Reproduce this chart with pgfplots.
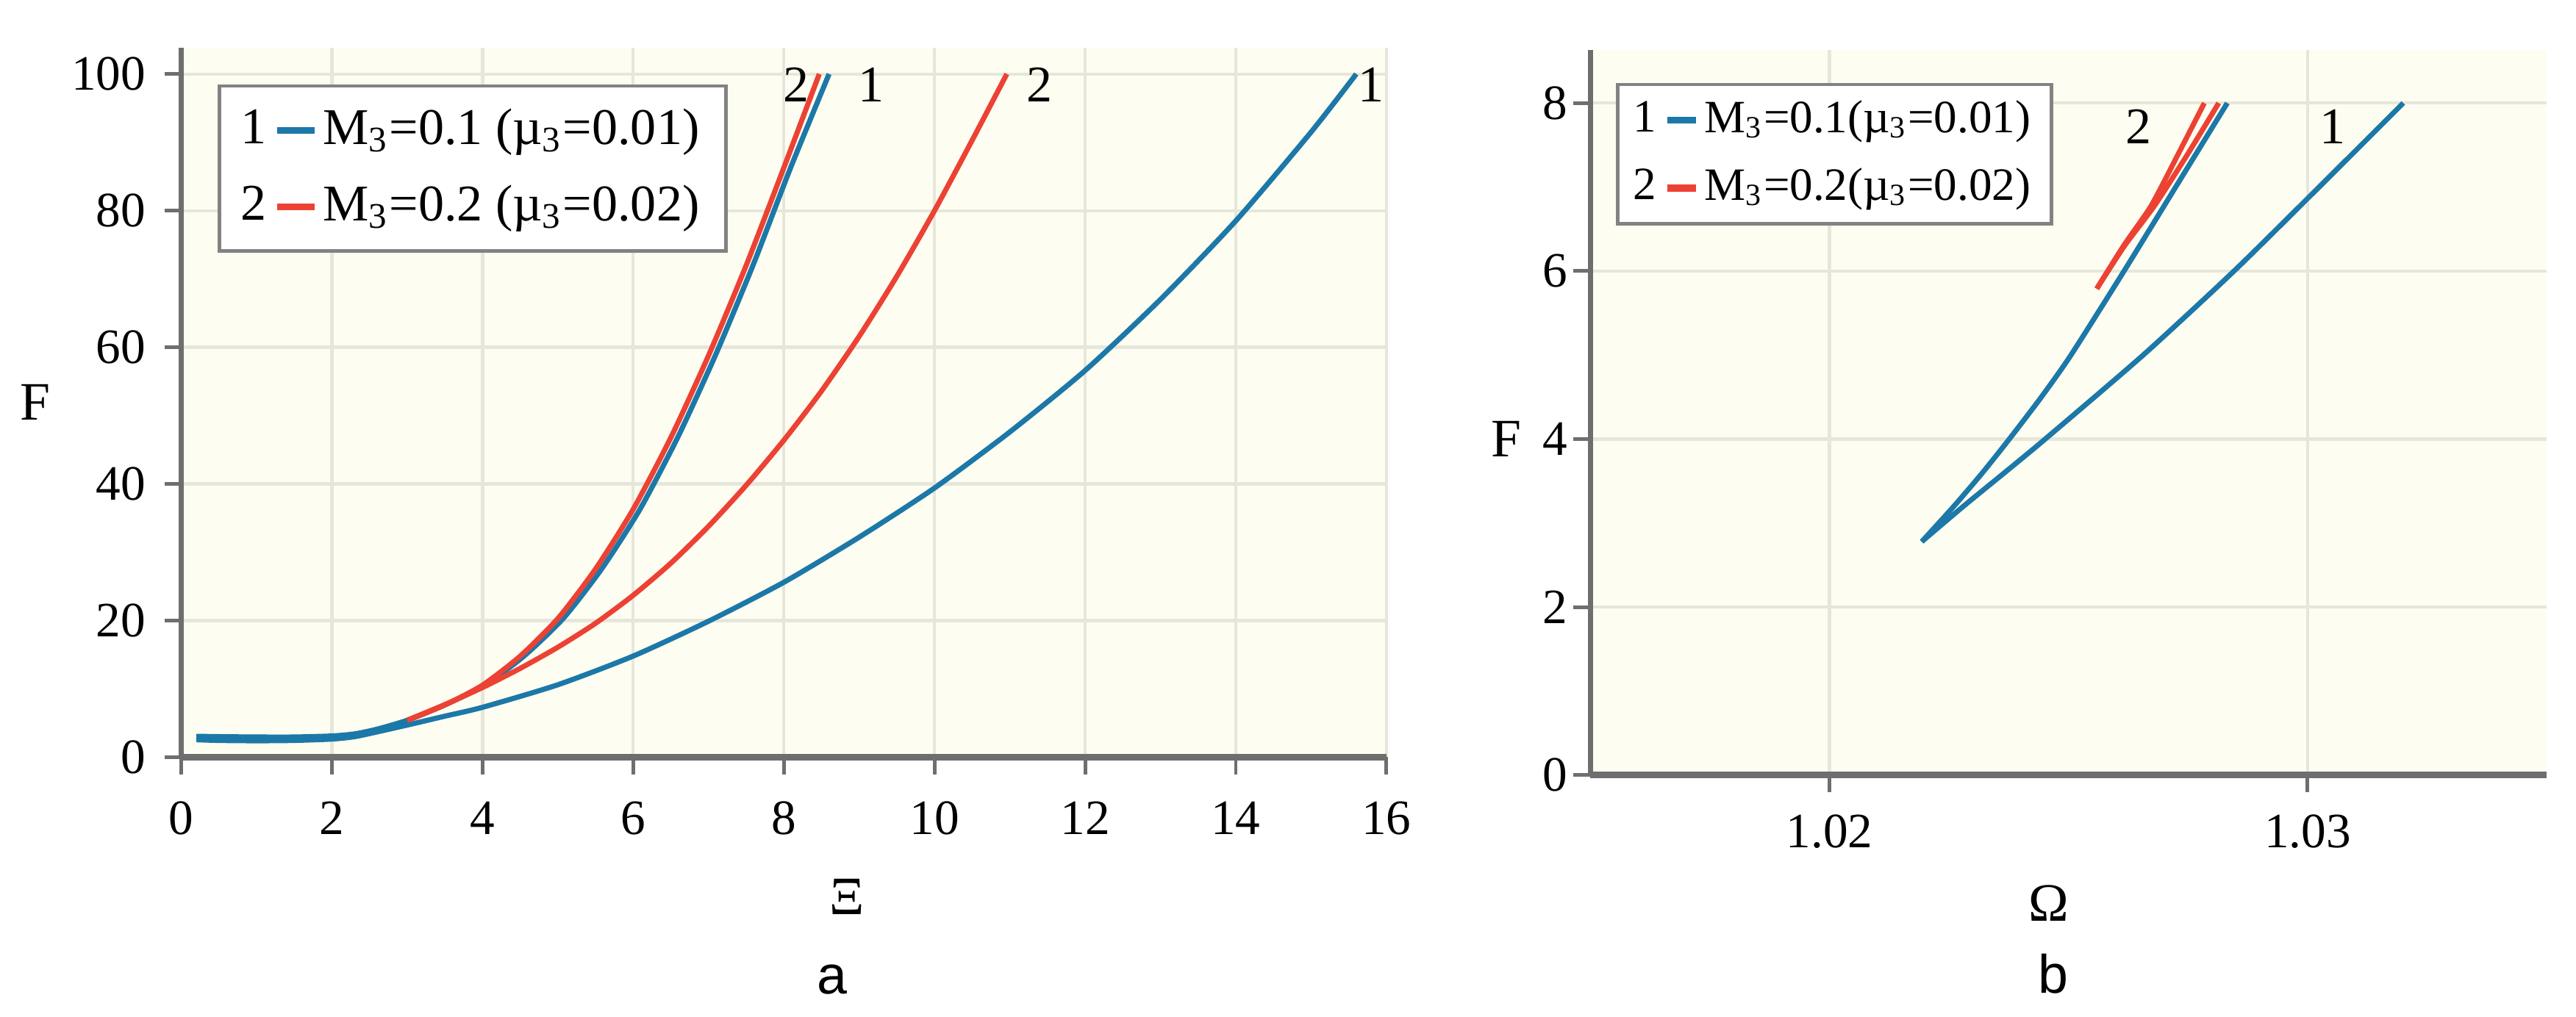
\documentclass[border=0pt]{standalone}
\usepackage{fontspec}
\setmainfont{Liberation Serif}
\newfontfamily\sansf{Liberation Sans}
\usepackage{pgfplots}
\pgfplotsset{compat=1.18}
\definecolor{bluec}{RGB}{28,120,168}
\definecolor{redc}{RGB}{236,66,52}
\definecolor{bgc}{RGB}{254,253,241}
\definecolor{gridc}{RGB}{230,230,218}
\definecolor{axc}{RGB}{110,110,110}
\definecolor{legc}{RGB}{130,130,130}
\tikzset{lab/.style={font=\fontsize{10}{12}\selectfont, inner sep=0pt}}
\pgfplotsset{
  common/.style={
    scale only axis,
    axis lines=left,
    axis line style={-, draw=axc},
    x axis line style={line width=1.3pt},
    y axis line style={line width=1pt},
    tick align=outside,
    major tick length=3.3pt,
    tick style={draw=axc, line width=0.7pt},
    grid=major,
    grid style={draw=gridc, line width=0.6pt},
    axis background/.style={fill=bgc},
    tick label style={font=\fontsize{9.6}{12}\selectfont},
    /pgf/number format/assume math mode=true,
    clip mode=individual,
    legend cell align=left,
  },
  curve/.style={line width=1pt, smooth, tension=0.4, forget plot},
}
\begin{document}
\begin{tikzpicture}
\useasboundingbox (0,0) rectangle (500pt,197.43pt);

% ---------------- panel a ----------------
\begin{axis}[common,
  width=233.9pt, height=137.7pt,
  at={(35.2pt,50.4pt)}, anchor=south west,
  xmin=0, xmax=16, ymin=0, ymax=103.8,
  xtick={0,2,...,16}, ytick={0,20,...,100},
  xticklabel shift=1.8pt, yticklabel shift=0.1pt,
  legend style={at={(0.03,0.949)}, anchor=north west,
    draw=legc, line width=0.7pt, fill=white,
    inner xsep=4.2pt, inner ysep=3.4pt,
    row sep=4.4pt,
    nodes={inner xsep=1pt, inner ysep=1pt},
    font=\fontsize{10}{12}\selectfont},
]
% curve 1 (blue), upper branch continuing into the flat part
\addplot[curve, bluec] coordinates {
 (8.60,100) (8.09,86.3) (7.59,72) (7.09,58.8) (6.59,46.8) (6.09,36.3)
 (5.58,27.55) (5.07,20.3) (4.55,14.8) (4.03,10.55) (3.5,7.65) (3,5.4)
 (2.6,4.1) (2.3,3.4) (2,3.1) (1.5,2.95) (1,2.95) (0.5,3.0) (0.2,3.05)};
% curve 1 (blue), lower branch
\addplot[curve, bluec] coordinates {
 (0.2,2.55) (0.5,2.45) (1,2.4) (1.5,2.45) (2,2.65) (2.3,3.0) (2.6,3.7) (3,4.7)
 (3.5,6.0) (4,7.3) (5,10.6) (6,14.8) (7,19.9) (8,25.6) (9,32.2) (10,39.4)
 (11,47.6) (12,56.6) (13,67) (14,78.5) (15,91.5) (15.6,100)};
% curve 2 (red), steep branch
\addplot[curve, redc] coordinates {
 (3.0,5.4) (3.5,7.65) (4,10.55) (4.5,14.8) (5,20.3) (5.5,27.55) (6,36.3)
 (6.5,46.8) (7,58.8) (7.5,72) (8,86.3) (8.47,100)};
% curve 2 (red), middle branch
\addplot[curve, redc] coordinates {
 (3.0,5.4) (3.5,7.7) (4,10.2) (4.5,13) (5,16.1) (5.5,19.6) (6,23.7) (6.5,28.4)
 (7,33.8) (7.5,39.8) (8,46.4) (8.5,53.6) (9,61.6) (9.5,70.4) (10,80.0)
 (10.5,90.3) (10.96,100)};

\addlegendimage{legend image code/.code={
  \node[anchor=east, inner sep=0pt] at (-1.7pt,0pt) {1};
  \draw[bluec, line width=1.3pt] (0pt,0pt) -- (7.2pt,0pt);}}
\addlegendentry{M\textsubscript{3}=0.1 (µ\textsubscript{3}=0.01)}
\addlegendimage{legend image code/.code={
  \node[anchor=east, inner sep=0pt] at (-1.7pt,0pt) {2};
  \draw[redc, line width=1.3pt] (0pt,0pt) -- (7.2pt,0pt);}}
\addlegendentry{M\textsubscript{3}=0.2 (µ\textsubscript{3}=0.02)}

\node[lab] at (axis cs:8.16,98.4) {2};
\node[lab] at (axis cs:9.16,98.4) {1};
\node[lab] at (axis cs:11.39,98.4) {2};
\node[lab] at (axis cs:15.8,98.4) {1};
\end{axis}

% ---------------- panel b ----------------
\begin{axis}[common,
  width=185.6pt, height=140.8pt,
  at={(308.7pt,46.9pt)}, anchor=south west,
  xmin=1.015, xmax=1.035, ymin=0, ymax=8.63,
  xtick={1.02,1.03}, ytick={0,2,...,8},
  scaled x ticks=false,
  xticklabel style={/pgf/number format/.cd, fixed, fixed zerofill, precision=2},
  xticklabel shift=0.8pt, yticklabel shift=-2.4pt,
  legend style={at={(0.0268,0.955)}, anchor=north west,
    draw=legc, line width=0.7pt, fill=white,
    inner xsep=3pt, inner ysep=2.1pt,
    row sep=3.4pt,
    nodes={inner xsep=1pt, inner ysep=1pt},
    font=\fontsize{9}{11}\selectfont},
]
% curve 1 (blue), upper branch
\addplot[curve, bluec] coordinates {
 (1.02193,2.78) (1.02260,3.2) (1.02320,3.6) (1.02376,4.0) (1.02443,4.5)
 (1.02505,5.0) (1.02616,6.0) (1.02724,7.0) (1.02832,8.0)};
% curve 1 (blue), lower branch
\addplot[curve, bluec] coordinates {
 (1.02193,2.78) (1.0228,3.2) (1.02366,3.6) (1.02451,4.0) (1.02656,5.0)
 (1.02846,6.0) (1.03024,7.0) (1.03200,8.0)};
% curve 2 (red), two branches
\addplot[curve, redc] coordinates {
 (1.02559,5.79) (1.02615,6.3) (1.02673,6.78) (1.0273,7.4) (1.02784,8.0)};
\addplot[curve, redc] coordinates {
 (1.02559,5.79) (1.02617,6.3) (1.02680,6.78) (1.0275,7.4) (1.02814,8.0)};

\addlegendimage{legend image code/.code={
  \node[anchor=east, inner sep=0pt] at (-1.7pt,0pt) {1};
  \draw[bluec, line width=1.3pt] (0pt,0pt) -- (5.6pt,0pt);}}
\addlegendentry{M\textsubscript{3}=0.1(µ\textsubscript{3}=0.01)}
\addlegendimage{legend image code/.code={
  \node[anchor=east, inner sep=0pt] at (-1.7pt,0pt) {2};
  \draw[redc, line width=1.3pt] (0pt,0pt) -- (5.6pt,0pt);}}
\addlegendentry{M\textsubscript{3}=0.2(µ\textsubscript{3}=0.02)}

\node[lab] at (axis cs:1.02647,7.72) {2};
\node[lab] at (axis cs:1.03052,7.72) {1};
\end{axis}

% axis titles and panel letters
\node[lab, font=\fontsize{10.5}{12}\selectfont] at (6.9pt,119.3pt) {F};
\node[lab, font=\fontsize{10.5}{12}\selectfont] at (164.4pt,23.3pt) {Ξ};
\node[lab, font=\sansf\fontsize{10.5}{12}\selectfont] at (161.5pt,7.2pt) {a};
\node[lab, font=\fontsize{10.5}{12}\selectfont] at (292.4pt,112.2pt) {F};
\node[lab, font=\fontsize{10.5}{12}\selectfont] at (397.6pt,22.0pt) {Ω};
\node[lab, font=\sansf\fontsize{10.5}{12}\selectfont] at (398.6pt,8.3pt) {b};
\end{tikzpicture}
\end{document}
